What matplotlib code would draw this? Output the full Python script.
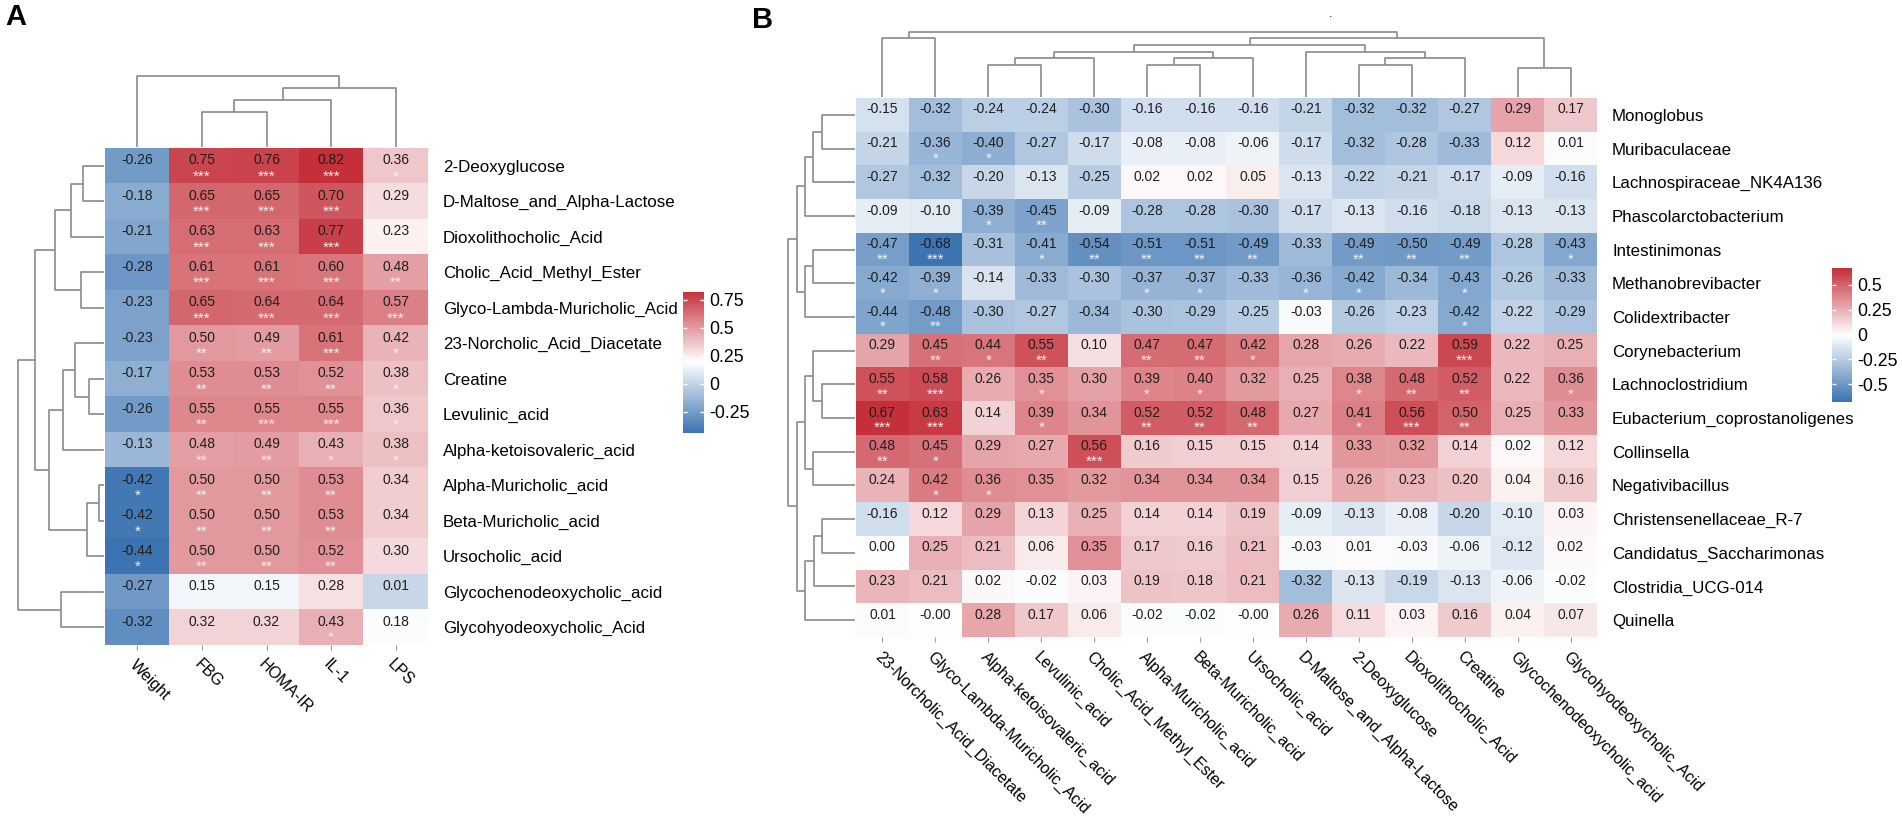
import numpy as np
import matplotlib
matplotlib.use("Agg")
import matplotlib.pyplot as plt
from matplotlib.colors import LinearSegmentedColormap

plt.rcParams['font.family'] = ['Liberation Sans', 'DejaVu Sans']

# ---------------- panel A data ----------------
a_cols = ["Weight", "FBG", "HOMA-IR", "IL-1", "LPS"]
a_rows = ["2-Deoxyglucose", "D-Maltose_and_Alpha-Lactose", "Dioxolithocholic_Acid",
          "Cholic_Acid_Methyl_Ester", "Glyco-Lambda-Muricholic_Acid", "23-Norcholic_Acid_Diacetate",
          "Creatine", "Levulinic_acid", "Alpha-ketoisovaleric_acid", "Alpha-Muricholic_acid",
          "Beta-Muricholic_acid", "Ursocholic_acid", "Glycochenodeoxycholic_acid",
          "Glycohyodeoxycholic_Acid"]
a_vals = [
    [-0.26, 0.75, 0.76, 0.82, 0.36],
    [-0.18, 0.65, 0.65, 0.70, 0.29],
    [-0.21, 0.63, 0.63, 0.77, 0.23],
    [-0.28, 0.61, 0.61, 0.60, 0.48],
    [-0.23, 0.65, 0.64, 0.64, 0.57],
    [-0.23, 0.50, 0.49, 0.61, 0.42],
    [-0.17, 0.53, 0.53, 0.52, 0.38],
    [-0.26, 0.55, 0.55, 0.55, 0.36],
    [-0.13, 0.48, 0.49, 0.43, 0.38],
    [-0.42, 0.50, 0.50, 0.53, 0.34],
    [-0.42, 0.50, 0.50, 0.53, 0.34],
    [-0.44, 0.50, 0.50, 0.52, 0.30],
    [-0.27, 0.15, 0.15, 0.28, 0.01],
    [-0.32, 0.32, 0.32, 0.43, 0.18],
]
a_sig = [
    [0, 3, 3, 3, 1],
    [0, 3, 3, 3, 0],
    [0, 3, 3, 3, 0],
    [0, 3, 3, 3, 2],
    [0, 3, 3, 3, 3],
    [0, 2, 2, 3, 1],
    [0, 2, 2, 2, 1],
    [0, 2, 3, 3, 1],
    [0, 2, 2, 1, 1],
    [1, 2, 2, 2, 0],
    [1, 2, 2, 2, 0],
    [1, 2, 2, 2, 0],
    [0, 0, 0, 0, 0],
    [0, 0, 0, 1, 0],
]
# tree merges: (left, right, height) with leaves in display order
a_col_tree = [(1, 2, 36), (5, 3, 48), (6, 4, 60), (0, 7, 72)]
a_row_tree = [(9, 10, 6), (14, 11, 18), (0, 1, 22), (16, 2, 34), (3, 4, 24), (17, 18, 50),
              (6, 7, 16), (5, 20, 30), (21, 8, 42), (22, 15, 56), (19, 23, 70),
              (12, 13, 44), (24, 25, 87)]
a_ticks = [0.75, 0.5, 0.25, 0, -0.25]

# ---------------- panel B data ----------------
b_cols = ["23-Norcholic_Acid_Diacetate", "Glyco-Lambda-Muricholic_Acid", "Alpha-ketoisovaleric_acid",
          "Levulinic_acid", "Cholic_Acid_Methyl_Ester", "Alpha-Muricholic_acid", "Beta-Muricholic_acid",
          "Ursocholic_acid", "D-Maltose_and_Alpha-Lactose", "2-Deoxyglucose", "Dioxolithocholic_Acid",
          "Creatine", "Glycochenodeoxycholic_acid", "Glycohyodeoxycholic_Acid"]
b_rows = ["Monoglobus", "Muribaculaceae", "Lachnospiraceae_NK4A136", "Phascolarctobacterium",
          "Intestinimonas", "Methanobrevibacter", "Colidextribacter", "Corynebacterium",
          "Lachnoclostridium", "Eubacterium_coprostanoligenes", "Collinsella", "Negativibacillus",
          "Christensenellaceae_R-7", "Candidatus_Saccharimonas", "Clostridia_UCG-014", "Quinella"]
b_vals = [
    [-0.15, -0.32, -0.24, -0.24, -0.30, -0.16, -0.16, -0.16, -0.21, -0.32, -0.32, -0.27, 0.29, 0.17],
    [-0.21, -0.36, -0.40, -0.27, -0.17, -0.08, -0.08, -0.06, -0.17, -0.32, -0.28, -0.33, 0.12, 0.01],
    [-0.27, -0.32, -0.20, -0.13, -0.25, 0.02, 0.02, 0.05, -0.13, -0.22, -0.21, -0.17, -0.09, -0.16],
    [-0.09, -0.10, -0.39, -0.45, -0.09, -0.28, -0.28, -0.30, -0.17, -0.13, -0.16, -0.18, -0.13, -0.13],
    [-0.47, -0.68, -0.31, -0.41, -0.54, -0.51, -0.51, -0.49, -0.33, -0.49, -0.50, -0.49, -0.28, -0.43],
    [-0.42, -0.39, -0.14, -0.33, -0.30, -0.37, -0.37, -0.33, -0.36, -0.42, -0.34, -0.43, -0.26, -0.33],
    [-0.44, -0.48, -0.30, -0.27, -0.34, -0.30, -0.29, -0.25, -0.03, -0.26, -0.23, -0.42, -0.22, -0.29],
    [0.29, 0.45, 0.44, 0.55, 0.10, 0.47, 0.47, 0.42, 0.28, 0.26, 0.22, 0.59, 0.22, 0.25],
    [0.55, 0.58, 0.26, 0.35, 0.30, 0.39, 0.40, 0.32, 0.25, 0.38, 0.48, 0.52, 0.22, 0.36],
    [0.67, 0.63, 0.14, 0.39, 0.34, 0.52, 0.52, 0.48, 0.27, 0.41, 0.56, 0.50, 0.25, 0.33],
    [0.48, 0.45, 0.29, 0.27, 0.56, 0.16, 0.15, 0.15, 0.14, 0.33, 0.32, 0.14, 0.02, 0.12],
    [0.24, 0.42, 0.36, 0.35, 0.32, 0.34, 0.34, 0.34, 0.15, 0.26, 0.23, 0.20, 0.04, 0.16],
    [-0.16, 0.12, 0.29, 0.13, 0.25, 0.14, 0.14, 0.19, -0.09, -0.13, -0.08, -0.20, -0.10, 0.03],
    [0.00, 0.25, 0.21, 0.06, 0.35, 0.17, 0.16, 0.21, -0.03, 0.01, -0.03, -0.06, -0.12, 0.02],
    [0.23, 0.21, 0.02, -0.02, 0.03, 0.19, 0.18, 0.21, -0.32, -0.13, -0.19, -0.13, -0.06, -0.02],
    [0.01, -0.004, 0.28, 0.17, 0.06, -0.02, -0.02, -0.004, 0.26, 0.11, 0.03, 0.16, 0.04, 0.07],
]
b_sig = [
    [0, 0, 0, 0, 0, 0, 0, 0, 0, 0, 0, 0, 0, 0],
    [0, 1, 1, 0, 0, 0, 0, 0, 0, 0, 0, 0, 0, 0],
    [0, 0, 0, 0, 0, 0, 0, 0, 0, 0, 0, 0, 0, 0],
    [0, 0, 1, 2, 0, 0, 0, 0, 0, 0, 0, 0, 0, 0],
    [2, 3, 0, 1, 2, 2, 2, 2, 0, 2, 2, 2, 0, 1],
    [1, 1, 0, 0, 0, 1, 1, 0, 1, 1, 0, 1, 0, 0],
    [1, 2, 0, 0, 0, 0, 0, 0, 0, 0, 0, 1, 0, 0],
    [0, 2, 1, 2, 0, 2, 2, 1, 0, 0, 0, 3, 0, 0],
    [2, 3, 0, 1, 0, 1, 1, 0, 0, 1, 2, 2, 0, 1],
    [3, 3, 0, 1, 0, 2, 2, 2, 0, 1, 3, 2, 0, 0],
    [2, 1, 0, 0, 3, 0, 0, 0, 0, 0, 0, 0, 0, 0],
    [0, 1, 1, 0, 0, 0, 0, 0, 0, 0, 0, 0, 0, 0],
    [0, 0, 0, 0, 0, 0, 0, 0, 0, 0, 0, 0, 0, 0],
    [0, 0, 0, 0, 0, 0, 0, 0, 0, 0, 0, 0, 0, 0],
    [0, 0, 0, 0, 0, 0, 0, 0, 0, 0, 0, 0, 0, 0],
    [0, 0, 0, 0, 0, 0, 0, 0, 0, 0, 0, 0, 0, 0],
]
b_col_tree = [(0, 1, 60), (2, 3, 33), (15, 4, 40), (5, 6, 33), (17, 7, 40), (16, 18, 46),
              (9, 10, 33), (20, 11, 40), (8, 21, 46), (19, 22, 53), (12, 13, 30),
              (23, 24, 60), (14, 25, 66)]
b_row_tree = [(0, 1, 34), (16, 2, 43), (17, 3, 51), (4, 5, 43), (19, 6, 51), (18, 20, 59),
              (8, 9, 34), (7, 22, 43), (10, 11, 43), (23, 24, 51), (12, 13, 34), (26, 14, 42),
              (27, 15, 51), (25, 28, 59), (21, 29, 68)]
b_ticks = [0.5, 0.25, 0, -0.25, -0.5]

W, H = 1902, 824
fig = plt.figure(figsize=(W / 100, H / 100), dpi=100)
cmap = LinearSegmentedColormap.from_list("bwr2", ["#3C74B2", "#FFFFFF", "#C52F3A"])
tree_color = "#8a8a8a"


def px_axes(x0, y0, x1, y1):
    return fig.add_axes([x0 / W, 1 - y1 / H, (x1 - x0) / W, (y1 - y0) / H])


def draw_tree(ax, merges, n, side):
    pos = {i: float(i) for i in range(n)}
    hgt = {i: 1.5 for i in range(n)}
    for k, (a, b, h) in enumerate(merges):
        xs = [pos[a], pos[a], pos[b], pos[b]]
        ys = [hgt[a], h, h, hgt[b]]
        if side == "top":
            ax.plot(xs, ys, color=tree_color, lw=1.2, solid_capstyle="butt")
        else:
            ax.plot(ys, xs, color=tree_color, lw=1.2, solid_capstyle="butt")
        pos[n + k] = (pos[a] + pos[b]) / 2
        hgt[n + k] = h
    ax.axis("off")


def heat_panel(vals, sig, rows, cols, box, col_tree, row_tree, top_px, left_px, cbar_box, ticks):
    vals = np.array(vals)
    nr, nc = vals.shape
    vmin, vmax = vals.min(), vals.max()
    x0, y0, x1, y1 = box
    ax = px_axes(x0, y0, x1, y1)
    ax.imshow(vals, cmap=cmap, vmin=vmin, vmax=vmax, aspect="auto", interpolation="nearest")
    for i in range(nr):
        for j in range(nc):
            ax.text(j, i - 0.16, f"{vals[i, j]:.2f}", ha="center", va="center",
                    fontsize=10, color="#1e1e1e")
            if sig[i][j]:
                ax.text(j, i + 0.3, "*" * sig[i][j], ha="center", va="center",
                        fontsize=11, color="#f2f2f2")
    for s in ax.spines.values():
        s.set_visible(False)
    ax.set_xticks(range(nc))
    ax.set_xticklabels(cols, rotation=-45, ha="left", va="top", rotation_mode="anchor",
                       fontsize=11.5)
    ax.tick_params(axis="x", length=3.6, width=0.8, color="#9a9a9a", pad=5)
    ax.yaxis.tick_right()
    ax.set_yticks(range(nr))
    ax.set_yticklabels(rows, fontsize=12.2)
    ax.tick_params(axis="y", length=0, pad=10.8)

    # column dendrogram
    tax = px_axes(x0, y0 - top_px, x1, y0)
    tax.set_xlim(-0.5, nc - 0.5)
    tax.set_ylim(0, top_px)
    draw_tree(tax, col_tree, nc, "top")

    # row dendrogram
    lax = px_axes(x0 - left_px, y0, x0, y1)
    lax.set_ylim(nr - 0.5, -0.5)
    lax.set_xlim(left_px, 0)
    draw_tree(lax, row_tree, nr, "left")

    # legend bar
    cx0, cy0, cx1, cy1 = cbar_box
    cax = px_axes(cx0, cy0, cx1, cy1)
    grad = np.linspace(vmax, vmin, 200).reshape(-1, 1)
    cax.imshow(grad, cmap=cmap, vmin=vmin, vmax=vmax, aspect="auto",
               extent=[0, 1, vmin, vmax], interpolation="bilinear")
    for s in cax.spines.values():
        s.set_visible(False)
    cax.set_xticks([])
    cax.yaxis.tick_right()
    cax.set_yticks(ticks)
    cax.set_yticklabels([f"{t:g}" for t in ticks], fontsize=12.8)
    cax.tick_params(axis="y", which="both", direction="in", length=3, width=1,
                    color="white", left=True, right=True, pad=4)


heat_panel(a_vals, a_sig, a_rows, a_cols, (105, 148, 428, 645), a_col_tree, a_row_tree,
           78, 95, (683, 292, 704, 433), a_ticks)
heat_panel(b_vals, b_sig, b_rows, b_cols, (856, 98, 1597, 637), b_col_tree, b_row_tree,
           73, 86, (1832, 268, 1852, 402), b_ticks)

fig.text(5 / W, 1 - 3 / H, "A", fontsize=21, fontweight="bold", va="top", ha="left")
fig.text(752 / W, 1 - 6 / H, "B", fontsize=21, fontweight="bold", va="top", ha="left")
fig.text(1331 / W, 1 - 14 / H, ".", fontsize=9, va="center", ha="center")

fig.savefig("out.png", dpi=100)
